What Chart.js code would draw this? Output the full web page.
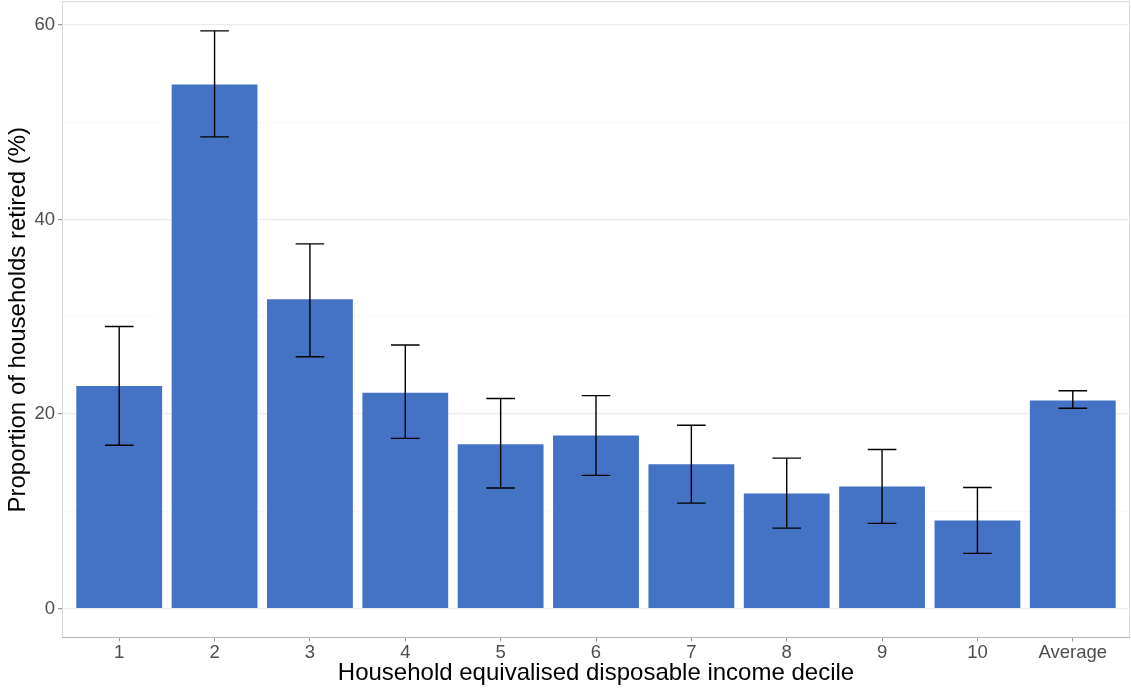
<!DOCTYPE html>
<html>
<head>
<meta charset="utf-8">
<title>Proportion of households retired by income decile</title>
<script src="https://cdn.jsdelivr.net/npm/chart.js@4/dist/chart.umd.min.js"></script>
<style>
  html, body { margin: 0; padding: 0; background: #ffffff; }
  #wrap { width: 1131px; height: 691px; }
</style>
</head>
<body>
<div id="wrap"><canvas id="chart" width="1131" height="691"></canvas></div>
<script>
// Income deciles plus the overall average
const categories = ['1', '2', '3', '4', '5', '6', '7', '8', '9', '10', 'Average'];
// Share of households retired (%)
const retiredPct = [22.9, 53.9, 31.8, 22.2, 16.9, 17.8, 14.85, 11.84, 12.56, 9.07, 21.4];
// Confidence interval bounds (%)
const ciLower = [16.8, 48.5, 25.9, 17.5, 12.4, 13.7, 10.85, 8.28, 8.76, 5.68, 20.6];
const ciUpper = [29.0, 59.4, 37.5, 27.1, 21.6, 21.9, 18.85, 15.47, 16.36, 12.46, 22.4];
// Y axis ticks: labelled every 20, light minor lines in between
const yTicks = [0, 10, 20, 30, 40, 50, 60];
const yLabelled = [0, 20, 40, 60];

const FONT = "'Liberation Sans', Arial, Helvetica, sans-serif";

const points = categories.map((c, i) => ({ x: i + 1, y: retiredPct[i] }));

// Error bars with end caps
const errorBars = {
  id: 'errorBars',
  afterDatasetsDraw(chart) {
    const { ctx, scales: { x, y } } = chart;
    const half = (x.getPixelForValue(1.15) - x.getPixelForValue(1));
    ctx.save();
    ctx.strokeStyle = '#000000';
    ctx.lineWidth = 1.4;
    categories.forEach((c, i) => {
      const px = x.getPixelForValue(i + 1);
      const lo = y.getPixelForValue(ciLower[i]);
      const hi = y.getPixelForValue(ciUpper[i]);
      ctx.beginPath();
      ctx.moveTo(px, lo); ctx.lineTo(px, hi);
      ctx.moveTo(px - half, lo); ctx.lineTo(px + half, lo);
      ctx.moveTo(px - half, hi); ctx.lineTo(px + half, hi);
      ctx.stroke();
    });
    ctx.restore();
  }
};

// Panel outline drawn over the plotting area
const panelBorder = {
  id: 'panelBorder',
  afterDraw(chart) {
    const { ctx, chartArea: a } = chart;
    ctx.save();
    ctx.lineWidth = 1;
    ctx.strokeStyle = '#d9d9d9';
    ctx.strokeRect(Math.round(a.left) + 0.5, Math.round(a.top) - 0.5,
                   Math.round(a.right - a.left) - 1, Math.round(a.bottom - a.top));
    ctx.strokeStyle = '#b3b3b3';
    ctx.beginPath();
    ctx.moveTo(a.left, Math.round(a.bottom) - 0.5);
    ctx.lineTo(a.right, Math.round(a.bottom) - 0.5);
    ctx.stroke();
    ctx.restore();
  }
};

new Chart(document.getElementById('chart'), {
  type: 'bar',
  data: {
    datasets: [{
      data: points,
      backgroundColor: '#4472C4',
      borderWidth: 0,
      barPercentage: 0.9,
      categoryPercentage: 1.0
    }]
  },
  options: {
    responsive: false,
    devicePixelRatio: 1,
    animation: false,
    layout: { padding: { top: 2, right: 1, left: 0, bottom: 0 } },
    plugins: {
      legend: { display: false },
      tooltip: { enabled: false }
    },
    scales: {
      x: {
        type: 'linear',
        offset: false,
        min: 0.4,
        max: 11.6,
        afterBuildTicks(axis) {
          axis.ticks = categories.map((c, i) => ({ value: i + 1 }));
        },
        afterFit(axis) {
          axis.height = 53.5;
          axis.paddingLeft = 0;
          axis.paddingRight = 0;
        },
        ticks: {
          autoSkip: false,
          maxRotation: 0,
          padding: 0,
          color: '#4d4d4d',
          font: { family: FONT, size: 18.5 },
          callback: (v) => categories[v - 1]
        },
        grid: {
          offset: false,
          drawOnChartArea: false,
          color: 'rgba(0,0,0,0)',
          tickColor: '#9a9a9a',
          tickLength: 4,
          tickWidth: 1
        },
        border: { display: false },
        title: {
          display: true,
          text: 'Household equivalised disposable income decile',
          color: '#000000',
          font: { family: FONT, size: 24 },
          padding: { top: 0, bottom: 3 }
        }
      },
      y: {
        min: -2.97,
        max: 62.37,
        afterBuildTicks(axis) {
          axis.ticks = yTicks.map(v => ({ value: v }));
        },
        afterFit(axis) {
          axis.width = 62;
          axis.paddingTop = 0;
          axis.paddingBottom = 0;
        },
        ticks: {
          padding: 3,
          color: '#4d4d4d',
          font: { family: FONT, size: 18.5 },
          callback: (v) => (yLabelled.includes(v) ? String(v) : '')
        },
        grid: {
          color: (c) => (c.tick && yLabelled.includes(c.tick.value) ? '#ebebeb' : '#f6f6f6'),
          lineWidth: (c) => (c.tick && yLabelled.includes(c.tick.value) ? 1.2 : 0.8),
          tickColor: (c) => (c.tick && yLabelled.includes(c.tick.value) ? '#9a9a9a' : 'rgba(0,0,0,0)'),
          tickLength: 4
        },
        border: { display: false },
        title: {
          display: true,
          text: 'Proportion of households retired (%)',
          color: '#000000',
          font: { family: FONT, size: 24 },
          padding: { top: 4.2, bottom: 0 }
        }
      }
    }
  },
  plugins: [errorBars, panelBorder]
});
</script>
</body>
</html>
